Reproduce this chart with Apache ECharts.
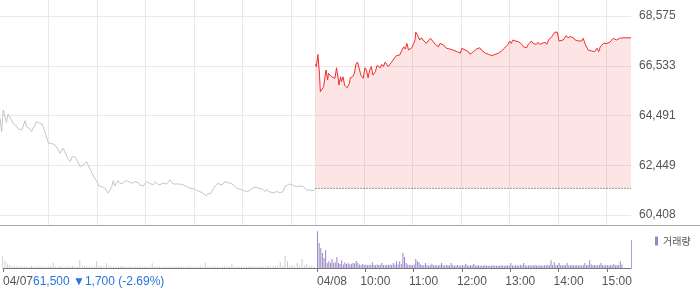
<!DOCTYPE html>
<html><head><meta charset="utf-8">
<script src="https://cdn.jsdelivr.net/npm/echarts@6/dist/echarts.min.js"></script>
<style>html,body{margin:0;padding:0;background:#fff}#c{width:700px;height:289px}</style>
</head><body><div id="c"></div>
<script>
// ---- data ----
const prevClose = 61500;
const yMin = 60408, yMax = 68575;
const days = ['04/07', '04/08'];
const hourLabels = ['10:00', '11:00', '12:00', '13:00', '14:00', '15:00'];
const infoText = '61,500 ▼1,700 (-2.69%)';

// [minute index on the two-day axis, price]
const day1Prices = [[0,64390],[2,63830],[4,64720],[6,64800],[8,64200],[10,64550],[12,64440],[14,64390],[16,64180],[19,64100],[21,64030],[23,63940],[25,63980],[27,63900],[29,64100],[31,64280],[33,64030],[35,64060],[37,63940],[39,63830],[41,63970],[43,64060],[45,64240],[47,64280],[49,64170],[52,64140],[54,63970],[56,63760],[58,63560],[60,63350],[62,63420],[64,63350],[66,63420],[68,63280],[70,63210],[72,63080],[74,62940],[76,62910],[78,63150],[80,63010],[82,62870],[84,62690],[87,62600],[89,62800],[91,62740],[93,62780],[95,62670],[97,62740],[99,62390],[101,62320],[103,62460],[105,62390],[107,62600],[109,62640],[111,62320],[113,62190],[115,62050],[117,61910],[120,61780],[122,61600],[124,61640],[126,61570],[128,61550],[130,61500],[132,61430],[134,61300],[136,61430],[138,61570],[140,61820],[142,61600],[144,61710],[146,61820],[148,61710],[150,61780],[152,61710],[155,61820],[157,61870],[159,61780],[161,61780],[163,61710],[165,61640],[167,61780],[169,61710],[171,61730],[173,61640],[175,61680],[177,61600],[179,61640],[181,61780],[183,61820],[185,61710],[189,61640],[192,61780],[194,61710],[196,61640],[198,61640],[202,61710],[206,61680],[210,61850],[212,61780],[214,61680],[218,61680],[222,61680],[227,61640],[231,61570],[235,61500],[239,61500],[243,61410],[247,61370],[251,61300],[253,61270],[255,61190],[257,61300],[260,61270],[262,61370],[264,61500],[266,61600],[268,61570],[270,61730],[272,61640],[274,61710],[276,61680],[278,61780],[280,61710],[282,61730],[284,61780],[286,61710],[288,61730],[290,61600],[293,61500],[297,61460],[301,61410],[305,61370],[307,61300],[309,61410],[311,61500],[313,61570],[315,61550],[317,61600],[321,61500],[323,61570],[325,61460],[328,61370],[330,61460],[332,61370],[334,61410],[338,61320],[342,61370],[346,61320],[350,61370],[352,61570],[354,61640],[358,61680],[361,61640],[363,61600],[367,61570],[371,61600],[375,61570],[377,61570],[379,61430],[383,61430],[387,61410],[389,61460]];

const day2Prices = [[390,66590],[391,66500],[393,67000],[395,66150],[396,65470],[398,65400],[400,65670],[401,65630],[403,66360],[405,65950],[406,66220],[408,66150],[410,66080],[412,66150],[414,66020],[416,66450],[418,66020],[419,65740],[421,66080],[422,65880],[424,66080],[426,65740],[428,65740],[429,65630],[432,65810],[433,66040],[436,66080],[438,66220],[440,66590],[442,66680],[444,66430],[446,66150],[448,66220],[449,66020],[451,66450],[453,66360],[455,66040],[457,66360],[459,66500],[461,66150],[464,66290],[466,66540],[468,66590],[470,66450],[472,66590],[474,66500],[476,66680],[478,66590],[480,66500],[482,66560],[484,66680],[486,66730],[488,66860],[490,66950],[492,66900],[494,66970],[497,67180],[499,67310],[501,67220],[503,67450],[505,67180],[507,67250],[509,67270],[511,67410],[513,67590],[514,67910],[516,67800],[517,67730],[519,67590],[521,67680],[523,67590],[525,67630],[527,67450],[529,67410],[532,67660],[534,67730],[536,67500],[538,67410],[540,67450],[542,67310],[544,67450],[546,67500],[548,67390],[550,67360],[552,67250],[554,67270],[556,67220],[558,67270],[560,67180],[562,67220],[565,67110],[567,67180],[569,67050],[571,67250],[573,67270],[575,67180],[577,67220],[579,67110],[581,67000],[583,67050],[585,67110],[587,67140],[589,67220],[591,67270],[593,67270],[595,67180],[597,67140],[600,67050],[602,67090],[604,67000],[606,67050],[608,66950],[610,66900],[612,67000],[614,66970],[616,67050],[618,67090],[620,67140],[622,67180],[624,67270],[626,67310],[628,67410],[630,67550],[632,67450],[634,67590],[637,67550],[639,67590],[641,67520],[643,67450],[645,67410],[647,67310],[649,67360],[651,67270],[653,67410],[655,67450],[657,67550],[659,67450],[661,67520],[663,67410],[665,67500],[667,67410],[670,67450],[672,67410],[674,67500],[676,67410],[678,67590],[680,67660],[682,67730],[684,67800],[686,67910],[689,67910],[691,67550],[693,67590],[696,67590],[698,67660],[700,67770],[702,67680],[705,67730],[707,67660],[709,67680],[711,67590],[713,67630],[715,67550],[717,67500],[719,67550],[721,67660],[723,67450],[725,67450],[727,67180],[729,67110],[731,67140],[733,67110],[735,67110],[738,67250],[740,67110],[742,67310],[744,67360],[746,67450],[748,67520],[750,67450],[752,67520],[754,67500],[756,67550],[758,67660],[760,67680],[762,67590],[764,67550],[766,67660],[768,67680],[770,67680],[780,67680]];

// volumes (thousand shares); day 1 every 3 minutes from 09:00, day 2 every 2 minutes from 09:00
const day1VolStep = 3;
const day1Vol = [120,70,45,30,18,15,20,12,18,14,16,12,20,15,12,18,14,16,12,15,18,50,15,14,20,16,15,18,14,20,16,15,80,18,22,15,18,16,14,70,20,18,16,47,20,15,18,14,16,20,18,15,14,16,12,15,18,14,12,16,15,13,47,14,15,18,12,14,15,16,12,14,13,15,16,12,14,18,15,14,12,16,14,15,53,14,12,15,16,14,12,15,18,14,16,43,15,14,12,16,14,15,18,14,16,15,12,18,14,16,20,18,15,22,18,60,20,120,67,22,25,18,50,20,90,25,37,20,18,15];
const day2VolStep = 2;
const day2Vol = [367,250,200,150,100,177,50,67,50,90,50,57,110,50,40,77,35,57,40,50,35,43,50,45,70,50,35,30,40,30,35,28,32,30,57,30,28,35,30,32,50,30,28,32,30,35,30,50,32,67,35,67,40,150,110,50,35,30,32,28,35,90,67,57,35,30,28,50,30,25,28,43,25,30,28,25,30,50,28,25,30,28,25,50,28,22,25,30,22,25,28,22,43,25,22,28,25,40,22,25,28,20,25,22,28,25,22,20,25,28,22,25,20,22,28,25,22,25,28,22,50,25,22,28,25,22,30,25,50,28,22,25,28,22,25,30,25,22,28,25,22,28,25,30,28,77,30,57,28,30,50,28,25,30,28,50,25,28,30,25,28,30,25,28,22,30,50,28,30,77,35,28,30,25,28,30,50,28,25,30,28,25,30,28,40,25,30,28,67,35,0,0,0,0,0,283];

// ---- axis categories: one per minute; day 1 09:00-15:29, day 2 09:00-15:30 ----
const categories = [];
for (let d = 0; d < days.length; d++) {
  const last = d === days.length - 1 ? 390 : 389;
  for (let m = 0; m <= last; m++) {
    const h = 9 + Math.floor(m / 60), mm = m % 60;
    categories.push(days[d] + ' ' + String(h).padStart(2, '0') + ':' + String(mm).padStart(2, '0'));
  }
}
const labelMap = {};
labelMap[days[0] + ' 09:00'] = days[0];
labelMap[days[1] + ' 09:00'] = days[1];
hourLabels.forEach(t => { labelMap[days[1] + ' ' + t] = t; });
const tickSet = new Set(Object.keys(labelMap));
const gridSet = new Set();
categories.forEach((c, i) => {
  const t = c.slice(6);
  if (c.startsWith(days[0]) && t.endsWith(':00') && t !== '09:00') gridSet.add(i);
  if (c.startsWith(days[1]) && t.endsWith(':00')) gridSet.add(i);
});

const vol1 = day1Vol.map((v, i) => [i * day1VolStep, v]);
const vol2 = day2Vol.map((v, i) => [390 + i * day2VolStep, v]);

const font = '"Liberation Sans", Arial, sans-serif';
const baseX = {
  type: 'category', data: categories, boundaryGap: false,
  axisLine: { show: false }, axisTick: { show: false }, axisLabel: { show: false }, splitLine: { show: false }
};

const chart = echarts.init(document.getElementById('c'), null, { renderer: 'canvas' });
chart.setOption({
  animation: false,
  textStyle: { fontFamily: font },
  grid: [
    { left: 0, top: 16, width: 631, height: 199 },
    { left: 0, top: 228, width: 631, height: 40 },
    { left: 0, top: 0, width: 631, height: 225 }
  ],
  legend: {
    data: ['거래량'], left: 650, top: 231, icon: 'rect', itemWidth: 3, itemHeight: 9,
    textStyle: { fontSize: 10, color: '#555', fontFamily: '"Noto Sans CJK KR", sans-serif' },
    selectedMode: false
  },
  xAxis: [
    Object.assign({}, baseX, { gridIndex: 0 }),
    Object.assign({}, baseX, {
      gridIndex: 1,
      axisLine: { show: true, lineStyle: { color: '#777', width: 1 } },
      axisTick: { show: true, length: 4, interval: (i, v) => tickSet.has(v), lineStyle: { color: '#777' } },
      axisLabel: {
        show: true, interval: (i, v) => tickSet.has(v), margin: 8,
        formatter: (v) => { const t = labelMap[v]; if (!t) return ''; return t.indexOf('/') >= 0 ? '{d|' + t + '}' : '{h|' + t + '}'; },
        rich: {
          d: { padding: [0, 0, 0, 30], fontSize: 12, color: '#555', fontFamily: font },
          h: { padding: [0, 0, 0, 20], fontSize: 12, color: '#555', fontFamily: font }
        }
      }
    }),
    Object.assign({}, baseX, {
      gridIndex: 2,
      splitLine: { show: true, interval: (i, v) => gridSet.has(i), lineStyle: { color: '#e9e9e9', width: 1 } }
    })
  ],
  yAxis: [
    {
      gridIndex: 0, type: 'value', position: 'right', min: yMin, max: yMax, interval: (yMax - yMin) / 4,
      axisLine: { show: false }, axisTick: { show: false },
      axisLabel: { color: '#555', fontSize: 12, margin: 8, fontFamily: font,
        formatter: v => Math.floor(v + 1e-6).toLocaleString('en-US') },
      splitLine: { lineStyle: { color: '#e9e9e9', width: 1 } }
    },
    { gridIndex: 1, type: 'value', min: 0, max: 400, axisLine: { show: false }, axisTick: { show: false }, axisLabel: { show: false }, splitLine: { show: false } },
    { gridIndex: 2, type: 'value', min: 0, max: 1, axisLine: { show: false }, axisTick: { show: false }, axisLabel: { show: false }, splitLine: { show: false } }
  ],
  series: [
    {
      name: '전일', type: 'line', xAxisIndex: 0, yAxisIndex: 0, data: day1Prices, symbol: 'none',
      lineStyle: { color: '#c3c5ca', width: 1 }, itemStyle: { color: '#c3c5ca' }
    },
    {
      name: '당일', type: 'line', xAxisIndex: 0, yAxisIndex: 0, data: day2Prices, symbol: 'none',
      lineStyle: { color: '#f42b2b', width: 1 }, itemStyle: { color: '#f42b2b' },
      areaStyle: { color: 'rgba(245,43,43,0.12)', opacity: 1, origin: prevClose }
    },
    {
      name: '전일종가', type: 'line', xAxisIndex: 0, yAxisIndex: 0, symbol: 'none', silent: true,
      data: [[390, prevClose], [categories.length - 1, prevClose]],
      lineStyle: { color: '#444', width: 1, type: [1, 2] }
    },
    {
      name: '거래량(전일)', type: 'bar', xAxisIndex: 1, yAxisIndex: 1, data: vol1, barWidth: 1,
      itemStyle: { color: '#c9cacd' }
    },
    {
      name: '거래량', type: 'bar', xAxisIndex: 1, yAxisIndex: 1, data: vol2, barWidth: 1,
      itemStyle: { color: '#9a85c7' }
    }
  ],
  graphic: [
    { type: 'line', silent: true, shape: { x1: 0, y1: 225.5, x2: 700, y2: 225.5 }, style: { stroke: '#a8a8a8', lineWidth: 1 } },
    { type: 'text', left: 33, top: 276, silent: true, style: { text: infoText, fill: '#2a73e0', font: '12px "Liberation Sans", Arial, sans-serif' } }
  ]
});
</script>
</body></html>
